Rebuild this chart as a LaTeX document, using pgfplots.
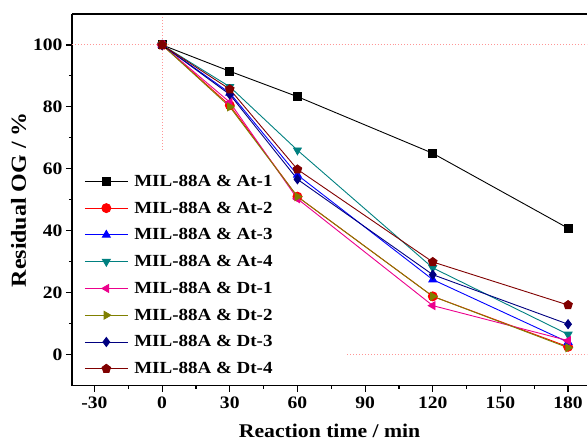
\documentclass[border=0pt]{standalone}
\usepackage{pgfplots}
\pgfplotsset{compat=1.18}
\usepackage{fontspec}
\setmainfont[FakeStretch=1.12]{Liberation Serif}
\definecolor{cTeal}{RGB}{0,128,128}
\definecolor{cOlive}{RGB}{128,128,0}
\definecolor{cNavy}{RGB}{0,0,128}
\definecolor{cMaroon}{RGB}{128,0,0}
\definecolor{cPink}{RGB}{255,150,150}
\newcommand{\legtext}[1]{\hspace{4pt}MIL-88A\;\&\;#1}
\begin{document}
\begin{tikzpicture}
\begin{axis}[name=ax, scale only axis, width=516pt, height=372pt,
  xmin=-40, xmax=188.5, ymin=-10, ymax=110,
  axis lines*=left,
  axis line style={line width=1.5pt,-},
  xtick={-30,0,30,60,90,120,150,180}, minor x tick num=1,
  ytick={0,20,40,60,80,100}, minor y tick num=1,
  tick align=outside, major tick length=6pt, minor tick length=3pt,
  tick style={line width=1.2pt,black},
  /pgf/number format/assume math mode=true,
  tick label style={font=\fontsize{17.5}{17.5}\selectfont\bfseries},
  xticklabel style={yshift=-2pt},
  xlabel={Reaction time / min}, ylabel={Residual OG / \%},
  xlabel style={font=\fontsize{19.4}{19.4}\selectfont\bfseries, yshift=-8pt},
  ylabel style={font=\fontsize{21.4}{21.4}\selectfont\bfseries},
  legend style={draw=none, fill=none, at={(rel axis cs:0.02,0.578)}, anchor=north west,
    font=\fontsize{17}{17}\selectfont\bfseries, row sep=10pt, inner sep=2pt},
  legend cell align=left,
  legend image code/.code={\draw[mark repeat=2,mark phase=2] plot coordinates {(0pt,0pt) (21.5pt,0pt) (43pt,0pt)};},
  every axis plot/.append style={line width=0.9pt, mark size=4.5pt},
]
\draw[cPink, dotted, line width=1pt] (axis cs:-40,100) -- (axis cs:188.5,100);
\draw[cPink, dotted, line width=1pt] (axis cs:0,110) -- (axis cs:0,65.5);
\draw[cPink, dotted, line width=1pt] (axis cs:82,0) -- (axis cs:188.5,0);
\addplot[black, mark=square*, mark size=4pt, mark options={fill=black}] coordinates {(0,100)(30,91.5)(60,83.3)(120,65)(180,40.8)};
\addlegendentry{\legtext{At-1}}
\addplot[red, mark=*, mark options={fill=red}] coordinates {(0,100)(30,80.5)(60,51)(120,18.8)(180,2.5)};
\addlegendentry{\legtext{At-2}}
\addplot[blue, mark=triangle*, mark options={fill=blue}] coordinates {(0,100)(30,84.5)(60,58)(120,24.2)(180,4)};
\addlegendentry{\legtext{At-3}}
\addplot[cTeal, mark=triangle*, mark options={fill=cTeal, rotate=180}] coordinates {(0,100)(30,86.5)(60,66)(120,28)(180,6.5)};
\addlegendentry{\legtext{At-4}}
\addplot[magenta, mark=triangle*, mark options={fill=magenta, rotate=90}] coordinates {(0,100)(30,81.5)(60,50.3)(120,15.8)(180,4.5)};
\addlegendentry{\legtext{Dt-1}}
\addplot[cOlive, mark=triangle*, mark options={fill=cOlive, rotate=-90}] coordinates {(0,100)(30,80)(60,51)(120,18.8)(180,2.2)};
\addlegendentry{\legtext{Dt-2}}
\addplot[cNavy, mark=diamond*, mark options={fill=cNavy}] coordinates {(0,100)(30,84)(60,56.6)(120,25.8)(180,9.8)};
\addlegendentry{\legtext{Dt-3}}
\addplot[cMaroon, mark=pentagon*, mark options={fill=cMaroon}] coordinates {(0,100)(30,85.7)(60,59.8)(120,29.9)(180,16)};
\addlegendentry{\legtext{Dt-4}}
\draw[line width=1.5pt] (rel axis cs:0,1) -- (rel axis cs:1,1);
\end{axis}
\path (ax.south west) ++(-72pt,-58pt) rectangle ++(588pt,444pt);
\end{tikzpicture}
\end{document}
